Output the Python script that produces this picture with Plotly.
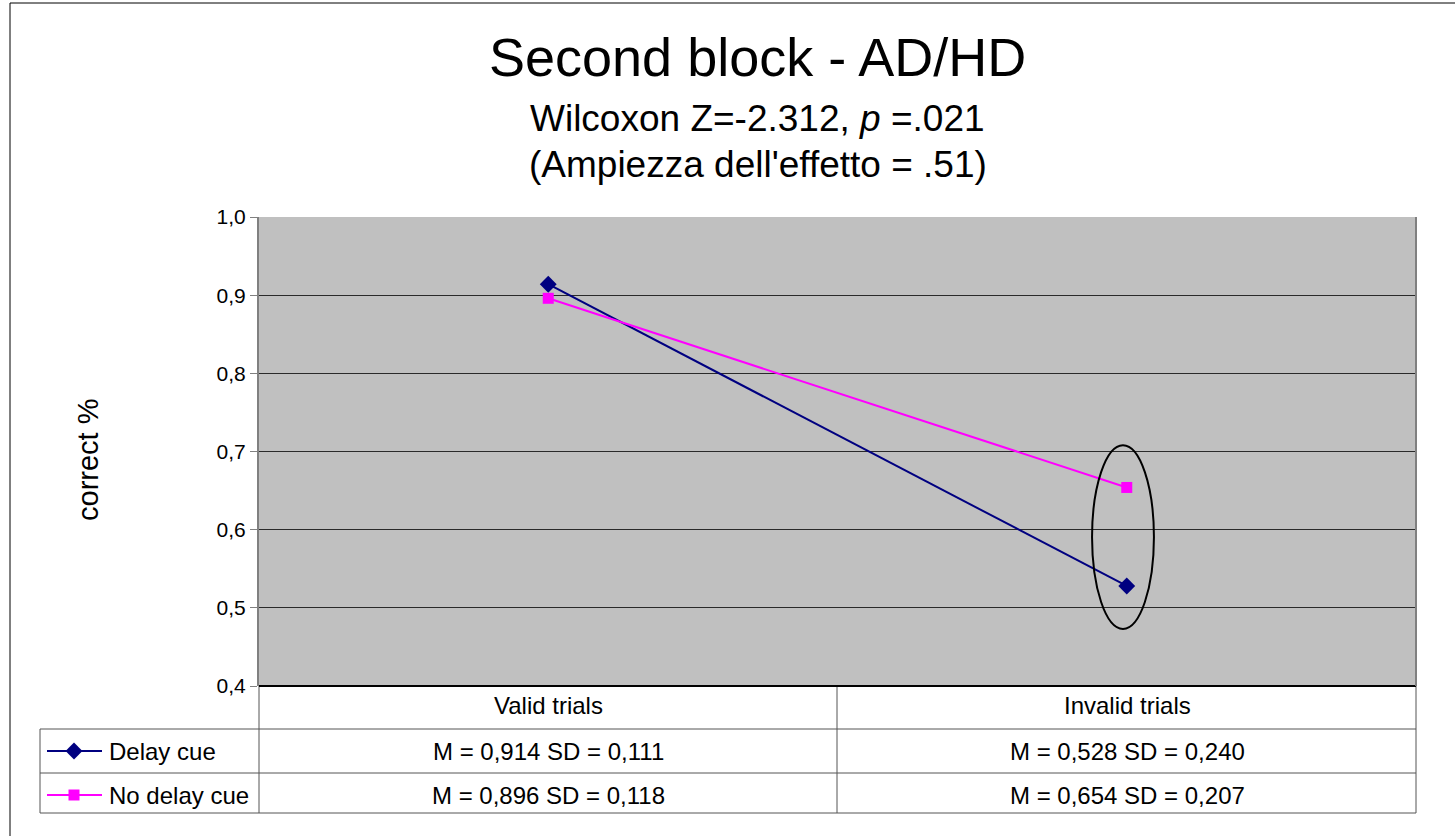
import plotly.graph_objects as go

W, H = 1455, 836

categories = ["Valid trials", "Invalid trials"]
series_names = ["Delay cue", "No delay cue"]
delay_cue = [0.914, 0.528]
no_delay_cue = [0.896, 0.654]
delay_sd = [0.111, 0.240]
no_delay_sd = [0.118, 0.207]

colors = ["#000080", "#FF00FF"]
symbols = ["diamond", "square"]
FONT = "Liberation Sans, Arial, sans-serif"


def px(x):
    return x / W


def py(y):
    return 1 - y / H


def fmt(v):
    return f"{v:.3f}".replace(".", ",")


fig = go.Figure()

for name, vals, col, sym in zip(series_names, [delay_cue, no_delay_cue], colors, symbols):
    fig.add_trace(go.Scatter(
        x=categories, y=vals, mode="lines+markers", name=name,
        line=dict(color=col, width=2),
        marker=dict(symbol=sym, size=13 if sym == "diamond" else 11, color=col),
        showlegend=False,
    ))

# legend keys inside the table, on an overlay axis spanning the page
row_y = [751, 795]
for name, col, sym, ry in zip(series_names, colors, symbols, row_y):
    fig.add_trace(go.Scatter(
        x=[px(47), px(74), px(102)], y=[py(ry)] * 3, mode="lines",
        line=dict(color=col, width=2), xaxis="x2", yaxis="y2", showlegend=False,
        hoverinfo="skip",
    ))
    fig.add_trace(go.Scatter(
        x=[px(74)], y=[py(ry)], mode="markers",
        marker=dict(symbol=sym, size=13 if sym == "diamond" else 11, color=col),
        xaxis="x2", yaxis="y2", showlegend=False, hoverinfo="skip",
    ))

shapes = []
line_col = "#555555"


def hline(y, x0, x1, color=line_col, width=1):
    shapes.append(dict(type="line", xref="paper", yref="paper",
                       x0=px(x0), x1=px(x1), y0=py(y), y1=py(y),
                       line=dict(color=color, width=width)))


def vline(x, y0, y1, color=line_col, width=1):
    shapes.append(dict(type="line", xref="paper", yref="paper",
                       x0=px(x), x1=px(x), y0=py(y0), y1=py(y1),
                       line=dict(color=color, width=width)))


# grey plot area (drawn as a shape so the overlay axis stays transparent)
shapes.append(dict(type="rect", xref="x domain", yref="y domain", x0=0, x1=1, y0=0, y1=1,
                   fillcolor="#C0C0C0", line=dict(width=0), layer="below"))

# outer chart frame
hline(3, 10, 1460, color="#000000")
vline(10, 3, 840, color="#000000")

# table grid
for y in (729, 773, 813):
    hline(y, 40, 1416)
vline(40, 729, 813)
vline(259, 686, 813)
vline(837, 686, 813)
vline(1416, 686, 813)
hline(686, 259, 1416, color="#000000", width=2)
vline(1416, 217, 686, color="#808080", width=2)

# emphasis ellipse around invalid trials
shapes.append(dict(type="circle", xref="x", yref="y",
                   x0=0.94, x1=1.047, y0=0.473, y1=0.708,
                   line=dict(color="#000000", width=2)))

annotations = [
    dict(text="Second block - AD/HD", x=px(757), y=py(57), font=dict(size=54)),
    dict(text="Wilcoxon Z=-2.312, <i>p</i> =.021", x=px(757), y=py(118), font=dict(size=37)),
    dict(text="(Ampiezza dell'effetto = .51)", x=px(758), y=py(164), font=dict(size=37)),
    dict(text="correct %", x=px(88), y=py(460), textangle=-90, font=dict(size=29)),
]
centers = [548, 1127]
for cat, cx in zip(categories, centers):
    annotations.append(dict(text=cat, x=px(cx), y=py(705), font=dict(size=24)))
for i, cx in enumerate(centers):
    annotations.append(dict(text=f"M = {fmt(delay_cue[i])} SD = {fmt(delay_sd[i])}",
                            x=px(cx), y=py(751), font=dict(size=24)))
    annotations.append(dict(text=f"M = {fmt(no_delay_cue[i])} SD = {fmt(no_delay_sd[i])}",
                            x=px(cx), y=py(795), font=dict(size=24)))
for name, ry in zip(series_names, row_y):
    annotations.append(dict(text=name, x=px(107), y=py(ry), xanchor="left", font=dict(size=24)))

for a in annotations:
    a.update(xref="paper", yref="paper", showarrow=False)
    a.setdefault("xanchor", "center")
    a["yanchor"] = "middle"

fig.update_layout(
    template="none",
    width=W, height=H,
    margin=dict(l=0, r=0, t=0, b=0, pad=0),
    paper_bgcolor="white",
    plot_bgcolor="rgba(0,0,0,0)",
    separators=",.",
    font=dict(family=FONT, color="#000000"),
    xaxis=dict(domain=[px(259), px(1416)], range=[-0.5, 1.5], type="category",
               showticklabels=False, showgrid=False, zeroline=False, ticks="",
               showline=False, automargin=False),
    yaxis=dict(domain=[py(686), py(217)], range=[0.4, 1.0], dtick=0.1, tick0=0.4,
               tickformat=".1f", ticks="outside", ticklen=7, tickcolor="#808080",
               showline=True, linecolor="#808080", linewidth=2,
               showgrid=True, gridcolor="#2a2a2a", gridwidth=1, zeroline=False,
               tickfont=dict(size=21), automargin=False),
    xaxis2=dict(domain=[0, 1], range=[0, 1], visible=False, fixedrange=True,
                automargin=False, anchor="y2"),
    yaxis2=dict(domain=[0, 1], range=[0, 1], visible=False, fixedrange=True,
                automargin=False, anchor="x2"),
    shapes=shapes,
    annotations=annotations,
)

fig.write_html("out.html", config={"displayModeBar": False},
               post_script="document.body.style.margin='0';")
